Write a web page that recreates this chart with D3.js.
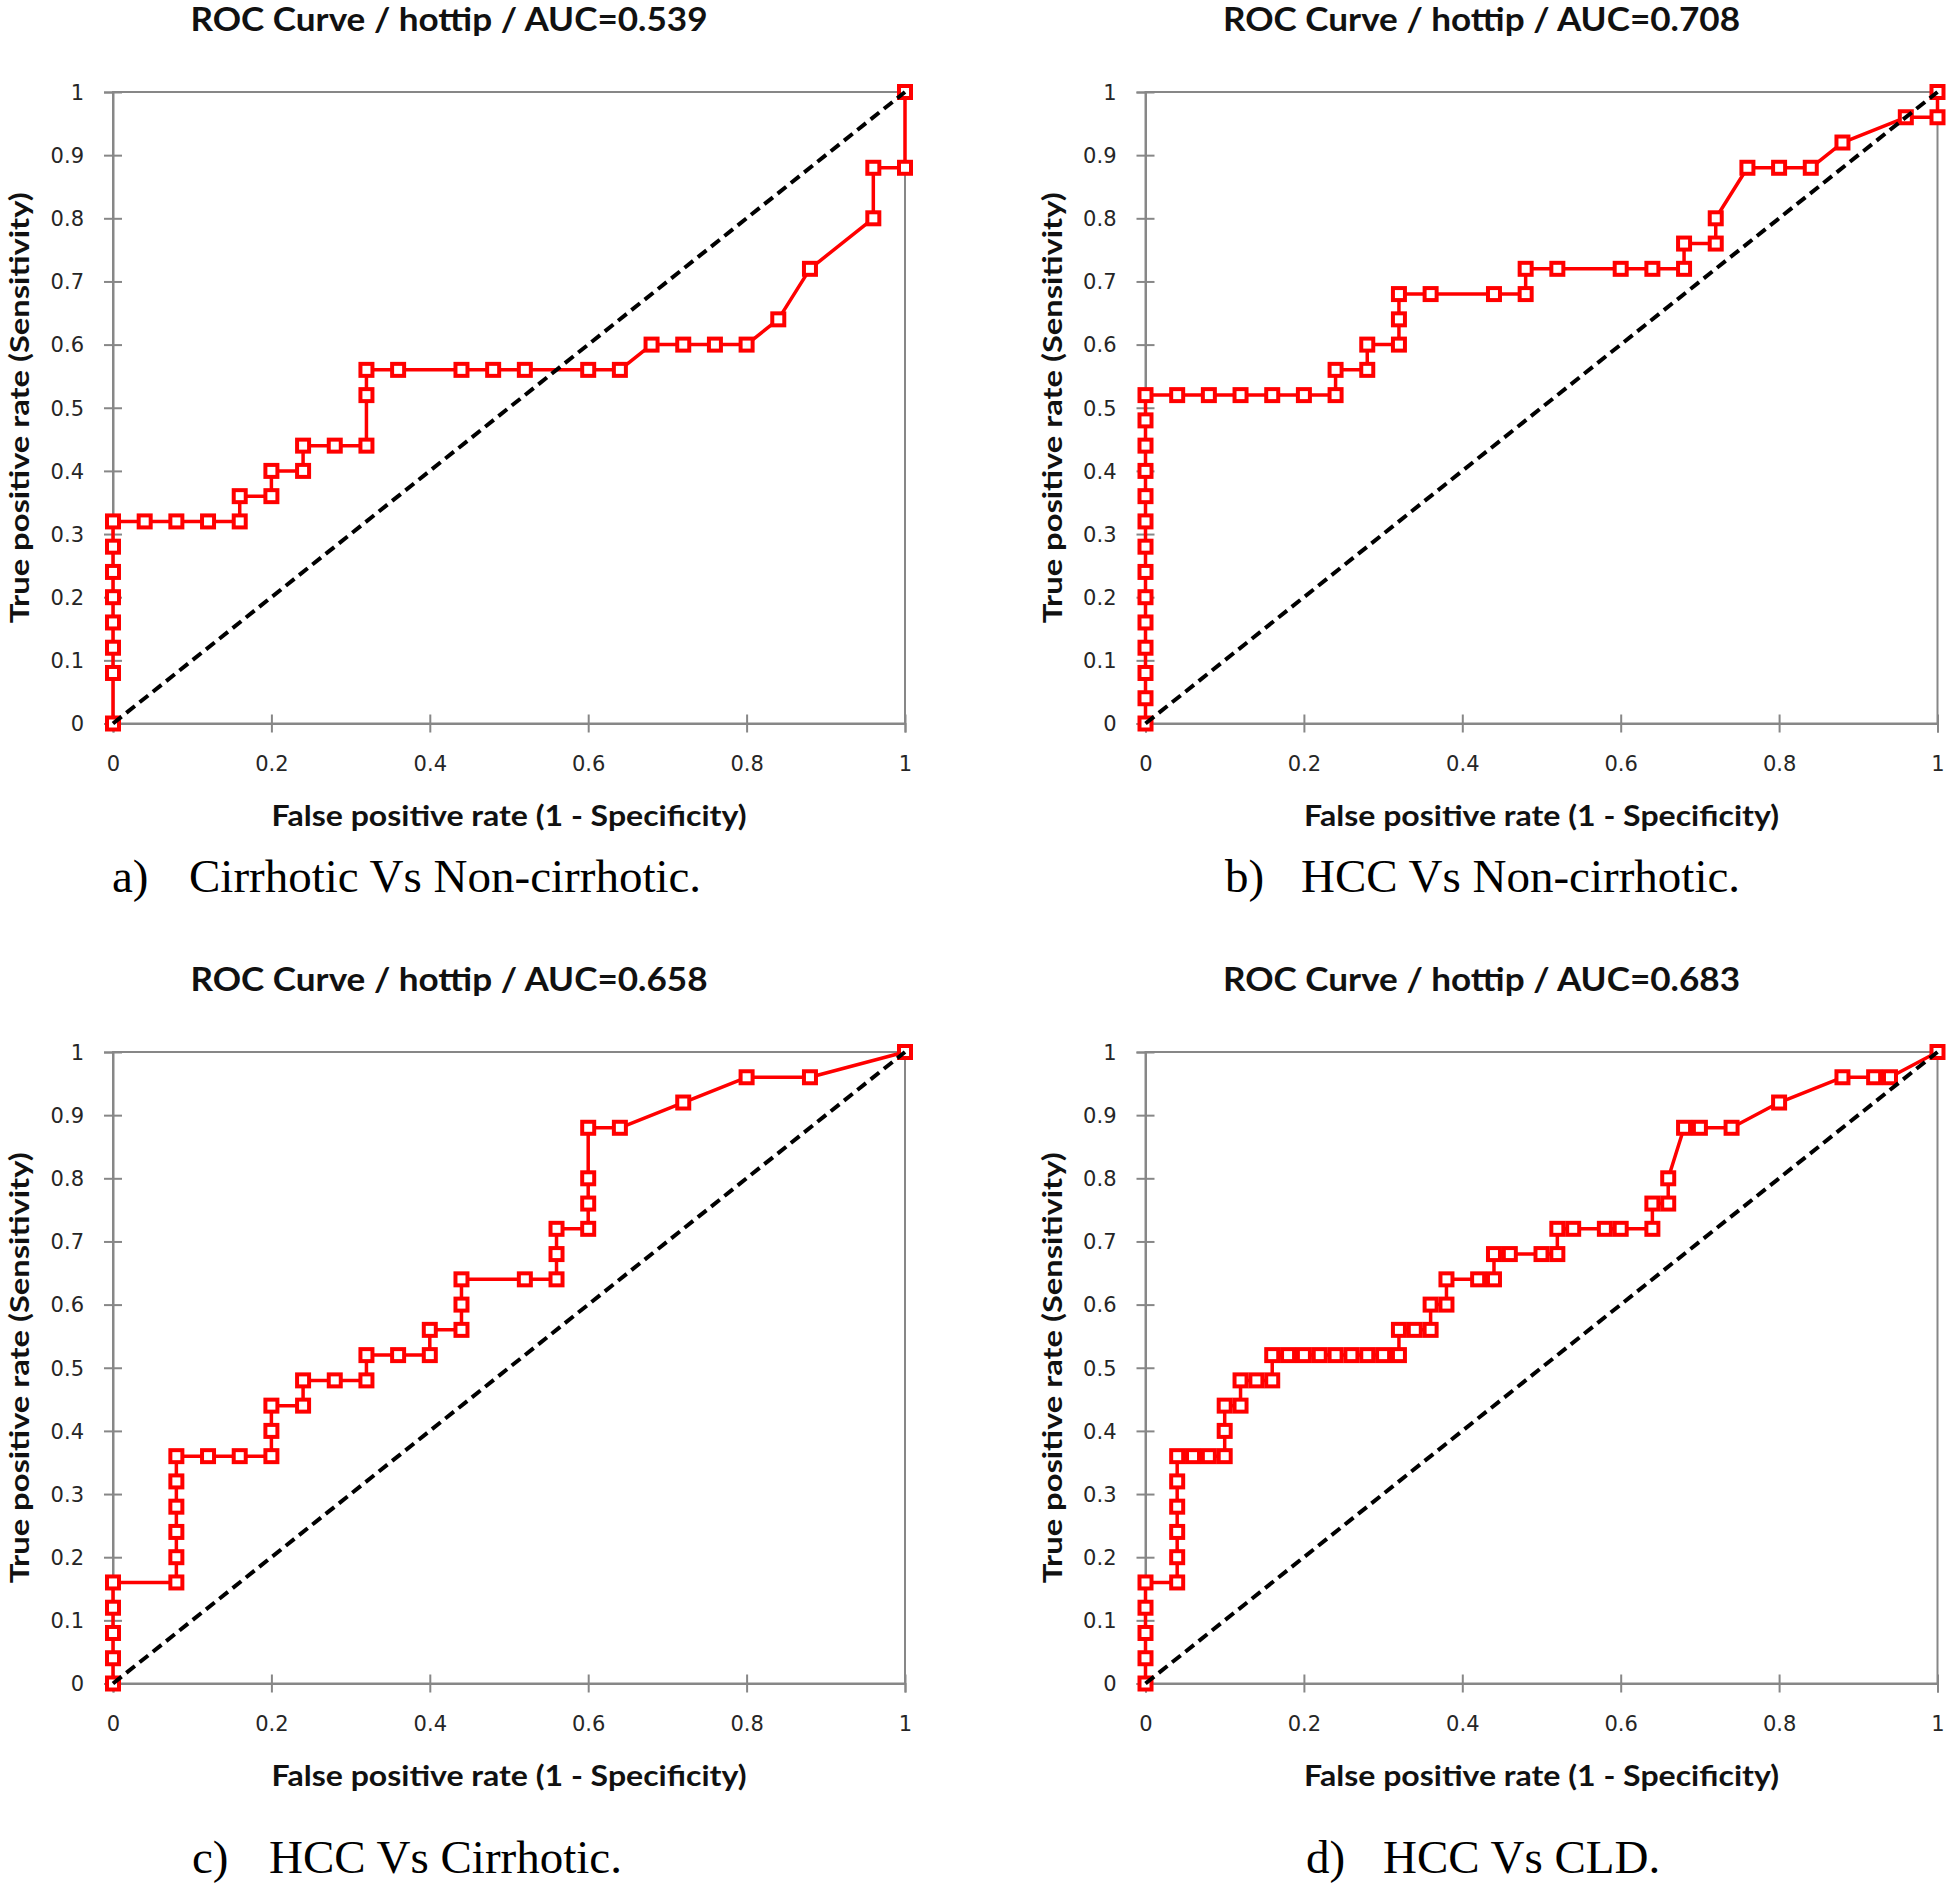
<!DOCTYPE html>
<html><head><meta charset="utf-8">
<script src="https://cdn.jsdelivr.net/npm/d3@7"></script>
<style>body{margin:0;background:#fff} svg{display:block}</style>
</head><body>
<svg id="chart" width="1946" height="1884"></svg>
<script>
// ---------- data ----------
const panelIds = ["a", "b", "c", "d"];
const aucLabels = ["0.539", "0.708", "0.658", "0.683"];
const captionLetters = ["a)", "b)", "c)", "d)"];
const captionTexts = ["Cirrhotic Vs Non-cirrhotic.", "HCC Vs Non-cirrhotic.", "HCC Vs Cirrhotic.", "HCC Vs CLD."];

const fprA = [0,0,0,0,0,0,0,0,0.04,0.08,0.12,0.16,0.16,0.2,0.2,0.24,0.24,0.28,0.32,0.32,0.32,0.36,0.44,0.48,0.52,0.6,0.64,0.68,0.72,0.76,0.8,0.84,0.88,0.96,0.96,1,1];
const tprA = [0,0.08,0.12,0.16,0.2,0.24,0.28,0.32,0.32,0.32,0.32,0.32,0.36,0.36,0.4,0.4,0.44,0.44,0.44,0.52,0.56,0.56,0.56,0.56,0.56,0.56,0.56,0.6,0.6,0.6,0.6,0.64,0.72,0.8,0.88,0.88,1];

const fprB = [0,0,0,0,0,0,0,0,0,0,0,0,0,0,0.04,0.08,0.12,0.16,0.2,0.24,0.24,0.28,0.28,0.32,0.32,0.32,0.36,0.44,0.48,0.48,0.52,0.6,0.64,0.68,0.68,0.72,0.72,0.76,0.8,0.84,0.88,0.96,1,1];
const tprB = [0,0.04,0.08,0.12,0.16,0.2,0.24,0.28,0.32,0.36,0.4,0.44,0.48,0.52,0.52,0.52,0.52,0.52,0.52,0.52,0.56,0.56,0.6,0.6,0.64,0.68,0.68,0.68,0.68,0.72,0.72,0.72,0.72,0.72,0.76,0.76,0.8,0.88,0.88,0.88,0.92,0.96,0.96,1];

const fprC = [0,0,0,0,0,0.08,0.08,0.08,0.08,0.08,0.08,0.12,0.16,0.2,0.2,0.2,0.24,0.24,0.28,0.32,0.32,0.36,0.4,0.4,0.44,0.44,0.44,0.52,0.56,0.56,0.56,0.6,0.6,0.6,0.6,0.64,0.72,0.8,0.88,1];
const tprC = [0,0.04,0.08,0.12,0.16,0.16,0.2,0.24,0.28,0.32,0.36,0.36,0.36,0.36,0.4,0.44,0.44,0.48,0.48,0.48,0.52,0.52,0.52,0.56,0.56,0.6,0.64,0.64,0.64,0.68,0.72,0.72,0.76,0.8,0.88,0.88,0.92,0.96,0.96,1];

const fprD = [0,0,0,0,0,0.04,0.04,0.04,0.04,0.04,0.04,0.06,0.08,0.1,0.1,0.1,0.12,0.12,0.14,0.16,0.16,0.18,0.2,0.22,0.24,0.26,0.28,0.3,0.32,0.32,0.34,0.36,0.36,0.38,0.38,0.42,0.44,0.44,0.46,0.5,0.52,0.52,0.54,0.58,0.6,0.64,0.64,0.66,0.66,0.68,0.7,0.74,0.8,0.88,0.92,0.94,1];
const tprD = [0,0.04,0.08,0.12,0.16,0.16,0.2,0.24,0.28,0.32,0.36,0.36,0.36,0.36,0.4,0.44,0.44,0.48,0.48,0.48,0.52,0.52,0.52,0.52,0.52,0.52,0.52,0.52,0.52,0.56,0.56,0.56,0.6,0.6,0.64,0.64,0.64,0.68,0.68,0.68,0.68,0.72,0.72,0.72,0.72,0.72,0.76,0.76,0.8,0.88,0.88,0.88,0.92,0.96,0.96,0.96,1];

const diagonalX = [0, 1];
const diagonalY = [0, 1];

const xTickValues = [0, 0.2, 0.4, 0.6, 0.8, 1];
const xTickLabels = ["0", "0.2", "0.4", "0.6", "0.8", "1"];
const yTickValues = [0, 0.1, 0.2, 0.3, 0.4, 0.5, 0.6, 0.7, 0.8, 0.9, 1];
const yTickLabels = ["0", "0.1", "0.2", "0.3", "0.4", "0.5", "0.6", "0.7", "0.8", "0.9", "1"];
const xAxisTitle = "False positive rate (1 - Specificity)";
const yAxisTitle = "True positive rate (Sensitivity)";
const titlePrefix = "ROC Curve / hottip / AUC=";

const fprs = [fprA, fprB, fprC, fprD];
const tprs = [tprA, tprB, tprC, tprD];

// ---------- layout ----------
const plotLefts = [113, 1145.5, 113, 1145.5];
const plotTops = [92, 92, 1052, 1052];
const W = 792, H = 631.5;
const capLetterX = [112, 1225, 192, 1306];
const capTextX = [189, 1301, 269, 1383];
const capY = [892, 892, 1873, 1873];

const AXIS_COLOR = "#878787";
const RED = "#ff0000";
const svg = d3.select("#chart");

panelIds.forEach((id, i) => {
  const g = svg.append("g").attr("transform", `translate(${plotLefts[i]},${plotTops[i]})`);
  const x = d3.scaleLinear().domain([0, 1]).range([0, W]);
  const y = d3.scaleLinear().domain([0, 1]).range([H, 0]);

  // frame
  g.append("rect").attr("x", 0).attr("y", 0).attr("width", W).attr("height", H)
    .attr("fill", "none").attr("stroke", AXIS_COLOR).attr("stroke-width", 2);

  // x axis
  const gx = g.append("g").attr("transform", `translate(0,${H})`)
    .call(d3.axisBottom(x).tickValues(xTickValues).tickFormat((d, k) => xTickLabels[k]).tickSizeOuter(0).tickSize(9));
  gx.select(".domain").attr("stroke", AXIS_COLOR).attr("stroke-width", 2);
  gx.selectAll(".tick line").attr("y1", -9).attr("y2", 9).attr("stroke", AXIS_COLOR).attr("stroke-width", 2);
  gx.selectAll(".tick text").attr("y", 40).attr("dy", "0.35em")
    .attr("font-family", "DejaVu Sans").attr("font-size", 21).attr("fill", "#262626");

  // y axis
  const gy = g.append("g")
    .call(d3.axisLeft(y).tickValues(yTickValues).tickFormat((d, k) => yTickLabels[k]).tickSizeOuter(0).tickSize(9));
  gy.select(".domain").attr("stroke", AXIS_COLOR).attr("stroke-width", 2);
  gy.selectAll(".tick line").attr("x1", -9).attr("x2", 9).attr("stroke", AXIS_COLOR).attr("stroke-width", 2);
  gy.selectAll(".tick text").attr("x", -29).attr("dy", "0.35em")
    .attr("font-family", "DejaVu Sans").attr("font-size", 21).attr("fill", "#262626");

  // ROC curve
  const pts = fprs[i].map((f, k) => [f, tprs[i][k]]);
  const line = d3.line().x(d => x(d[0])).y(d => y(d[1]));
  g.append("path").datum(pts).attr("d", line).attr("fill", "none")
    .attr("stroke", RED).attr("stroke-width", 3.5).attr("stroke-linejoin", "round");
  g.selectAll("rect.mk").data(pts).join("rect").attr("class", "mk")
    .attr("x", d => x(d[0]) - 6).attr("y", d => y(d[1]) - 6)
    .attr("width", 12).attr("height", 12)
    .attr("fill", "#fff").attr("stroke", RED).attr("stroke-width", 4);

  // diagonal reference
  const diag = diagonalX.map((v, k) => [v, diagonalY[k]]);
  g.append("path").datum(diag).attr("d", line).attr("fill", "none")
    .attr("stroke", "#000").attr("stroke-width", 4).attr("stroke-dasharray", "11,6");

  // chart title
  g.append("text").attr("x", 336).attr("y", -61).attr("text-anchor", "middle")
    .attr("font-family", "Lato").attr("font-weight", "bold").attr("font-size", 32)
    .attr("fill", "#111").attr("textLength", 517).attr("lengthAdjust", "spacingAndGlyphs")
    .text(titlePrefix + aucLabels[i]);

  // axis titles
  g.append("text").attr("x", W / 2).attr("y", H + 102).attr("text-anchor", "middle")
    .attr("font-family", "Lato").attr("font-weight", "bold").attr("font-size", 29)
    .attr("fill", "#111").attr("textLength", 475).attr("lengthAdjust", "spacingAndGlyphs")
    .text(xAxisTitle);
  g.append("text").attr("transform", `translate(-84,${H / 2}) rotate(-90)`).attr("text-anchor", "middle")
    .attr("font-family", "Lato").attr("font-weight", "bold").attr("font-size", 27)
    .attr("fill", "#111").attr("textLength", 431).attr("lengthAdjust", "spacingAndGlyphs")
    .text(yAxisTitle);

  // caption
  svg.append("text").attr("x", capLetterX[i]).attr("y", capY[i])
    .attr("font-family", "Liberation Serif").attr("font-size", 47).attr("fill", "#000")
    .text(captionLetters[i]);
  svg.append("text").attr("x", capTextX[i]).attr("y", capY[i])
    .attr("font-family", "Liberation Serif").attr("font-size", 47).attr("fill", "#000")
    .text(captionTexts[i]);
});
</script>
</body></html>
